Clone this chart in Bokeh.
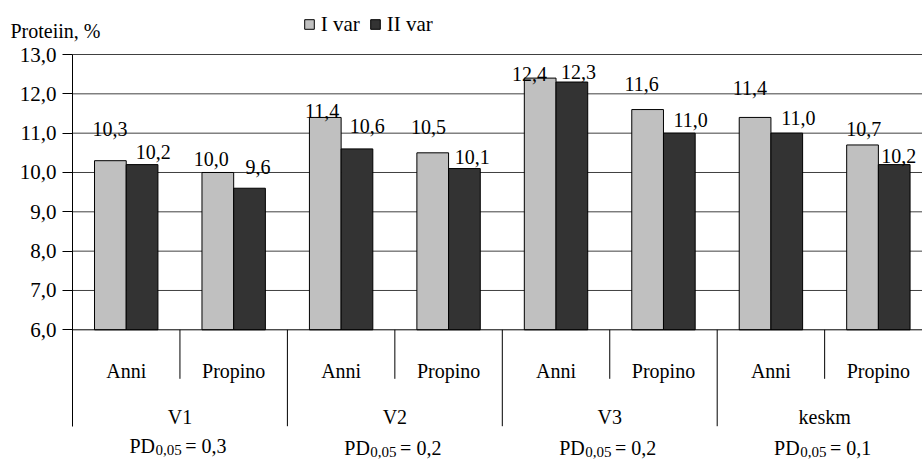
import numpy as np
from bokeh.plotting import figure
from bokeh.models import (ColumnDataSource, Range1d, FixedTicker, CustomJSTickFormatter,
                          Legend, LegendItem)
from bokeh.core.properties import value
from bokeh.embed import file_html
from bokeh.resources import INLINE

# ---------------- data ----------------
groups = ["V1", "V2", "V3", "keskm"]
subgroups = ["Anni", "Propino"]
series_names = ["I var", "II var"]
var1 = [10.3, 10.0, 11.4, 10.5, 12.4, 11.6, 11.4, 10.7]
var2 = [10.2, 9.6, 10.6, 10.1, 12.3, 11.0, 11.0, 10.2]
pd_values = ["0,3", "0,2", "0,2", "0,1"]
pd_prefix = "PD"
pd_sub = "0,05"
y_ticks = [6, 7, 8, 9, 10, 11, 12, 13]
y_title = "Proteiin, %"

# ---------------- label nudges (px, style only) ----------------
dx1 = [-0.5, -6.6, -3.1, -4.3, -10.7, -5.9, -5.1, 1.2]
dy1 = [31.9, 13.7, 6.9, 25.6, 4.3, 25.8, 29.2, 16.2]
dx2 = [11.2, 8.5, 10.3, 7.9, 6.7, 11.2, 11.5, 4.6]
dy2 = [12.4, 21.0, 22.4, 12.0, 10.5, 13.3, 15.3, 9.1]
pd_dy = [116.5, 118.5, 118.5, 118.5]

# ---------------- geometry (frame covers the whole canvas) ----------------
W, H = 922, 460
AX_X, AX_TOP = 72, 54          # pixel position of the value axis and of 13,0
PX_GROUP = 107.45              # pixels per category
PPU = 39.33                    # pixels per 1 % protein
BASE = 6.0
x_start = -AX_X / PX_GROUP
x_end = (W - AX_X) / PX_GROUP
y_top = 13 + AX_TOP / PPU
y_bot = 13 - (H - AX_TOP) / PPU
SUB_SEP = 49 / PPU
GRP_SEP = 96.4 / PPU

SERIF = value("Liberation Serif")
C1, C2 = "#C0C0C0", "#333333"

n = len(groups) * len(subgroups)
centers = np.arange(n) + 0.5
bw = 0.295
x1 = centers - bw / 2
x2 = centers + bw / 2

p = figure(width=W, height=H, output_backend="svg", toolbar_location=None,
           x_range=Range1d(x_start, x_end), y_range=Range1d(y_bot, y_top),
           x_axis_location=None,
           min_border_left=0, min_border_right=0, min_border_top=0, min_border_bottom=0)
p.outline_line_color = None
p.background_fill_color = "white"
p.border_fill_color = "white"

# value axis drawn at x = 0 (left edge of the category area)
p.yaxis.fixed_location = 0
p.yaxis.ticker = FixedTicker(ticks=y_ticks, minor_ticks=[])
p.yaxis.formatter = CustomJSTickFormatter(code="return tick.toFixed(1).replace('.', ',');")
p.yaxis.bounds = (BASE - GRP_SEP, 13)
p.yaxis.axis_line_color = "black"
p.yaxis.major_tick_line_color = "black"
p.yaxis.major_tick_out = 10
p.yaxis.major_tick_in = 0
p.yaxis.minor_tick_line_color = None
p.yaxis.major_label_text_font = "Liberation Serif"
p.yaxis.major_label_text_font_size = "21px"
p.yaxis.major_label_text_color = "black"
p.yaxis.major_label_standoff = 6
p.ygrid.grid_line_color = None
p.xgrid.grid_line_color = None

# horizontal gridlines over the category area only
grid_y = [t for t in y_ticks if t > BASE]
p.segment(x0=[0] * len(grid_y), y0=grid_y, x1=[x_end] * len(grid_y), y1=grid_y,
          line_color="#404040", line_width=1)

r1 = p.vbar(x=x1, top=var1, bottom=BASE, width=bw, fill_color=C1,
            line_color="black", line_width=1)
r2 = p.vbar(x=x2, top=var2, bottom=BASE, width=bw, fill_color=C2,
            line_color="black", line_width=1)

p.segment(x0=[0], y0=[BASE], x1=[x_end], y1=[BASE], line_color="black", line_width=1)

def fmt(v):
    return f"{v:.1f}".replace(".", ",")

lab = ColumnDataSource(dict(
    x=list(x1) + list(x2),
    y=var1 + var2,
    t=[fmt(v) for v in var1] + [fmt(v) for v in var2],
    dx=dx1 + dx2,
    dy=[-d for d in dy1 + dy2],
))
p.text(x="x", y="y", text="t", x_offset="dx", y_offset="dy", source=lab,
       text_font=SERIF, text_font_size="20px", text_align="center",
       text_baseline="alphabetic", text_color="black")

# two-level category axis
sub_src = ColumnDataSource(dict(x=list(centers), t=subgroups * len(groups)))
p.text(x="x", y=BASE, text="t", y_offset=40.7, source=sub_src,
       text_font=SERIF, text_font_size="20px", text_align="center",
       text_baseline="alphabetic", text_color="black")
g_centers = [len(subgroups) * i + len(subgroups) / 2 for i in range(len(groups))]
grp_src = ColumnDataSource(dict(x=g_centers, t=groups))
p.text(x="x", y=BASE, text="t", y_offset=87.4, source=grp_src,
       text_font=SERIF, text_font_size="20px", text_align="center",
       text_baseline="alphabetic", text_color="black")

sub_x = [len(subgroups) * i + 1 for i in range(len(groups))]
grp_x = [len(subgroups) * i for i in range(1, len(groups))]
p.segment(x0=sub_x, y0=[BASE] * len(sub_x), x1=sub_x, y1=[BASE - SUB_SEP] * len(sub_x),
          line_color="black", line_width=1)
p.segment(x0=grp_x, y0=[BASE] * len(grp_x), x1=grp_x, y1=[BASE - GRP_SEP] * len(grp_x),
          line_color="black", line_width=1)

# PD labels with subscript (composed from three texts)
ADV = {"P": 0.556, "D": 0.722, ",": 0.25, " ": 0.25, "=": 0.564}
def width(s, size):
    return sum(ADV.get(c, 0.5) for c in s) * size
MAIN, SUB = 20, 15
GAP = 4
rest = ["= " + v for v in pd_values]
w_pd = width(pd_prefix, MAIN)
w_sub = width(pd_sub, SUB)
starts = [-(w_pd + w_sub + GAP + width(r, MAIN)) / 2 - 2 for r in rest]
pd_src = ColumnDataSource(dict(
    x=g_centers,
    pre=[pd_prefix] * len(groups),
    sub=[pd_sub] * len(groups),
    rest=rest,
    o1=starts,
    o2=[s + w_pd + 0.5 for s in starts],
    o3=[s + w_pd + w_sub + GAP for s in starts],
    dy=pd_dy,
    dys=[d + 4 for d in pd_dy],
))
p.text(x="x", y=BASE, text="pre", x_offset="o1", y_offset="dy", source=pd_src,
       text_font=SERIF, text_font_size=f"{MAIN}px", text_align="left",
       text_baseline="alphabetic", text_color="black")
p.text(x="x", y=BASE, text="sub", x_offset="o2", y_offset="dys", source=pd_src,
       text_font=SERIF, text_font_size=f"{SUB}px", text_align="left",
       text_baseline="alphabetic", text_color="black")
p.text(x="x", y=BASE, text="rest", x_offset="o3", y_offset="dy", source=pd_src,
       text_font=SERIF, text_font_size=f"{MAIN}px", text_align="left",
       text_baseline="alphabetic", text_color="black")

# caption of the value axis, top-left
p.text(x=[x_start], y=[13], text=[y_title], x_offset=10, y_offset=-24,
       text_font=SERIF, text_font_size="20px", text_align="left",
       text_baseline="alphabetic", text_color="black")

# legend
legend = Legend(items=[LegendItem(label=series_names[0], renderers=[r1]),
                       LegendItem(label=series_names[1], renderers=[r2])],
                location=(302.7, 423.2), orientation="horizontal",
                glyph_width=12, glyph_height=12, label_standoff=6, spacing=9,
                padding=0, margin=0, border_line_color=None,
                background_fill_alpha=0,
                label_text_font="Liberation Serif", label_text_font_size="21px",
                label_text_color="black")
p.add_layout(legend)

open("out.html", "w").write(file_html(p, INLINE))
